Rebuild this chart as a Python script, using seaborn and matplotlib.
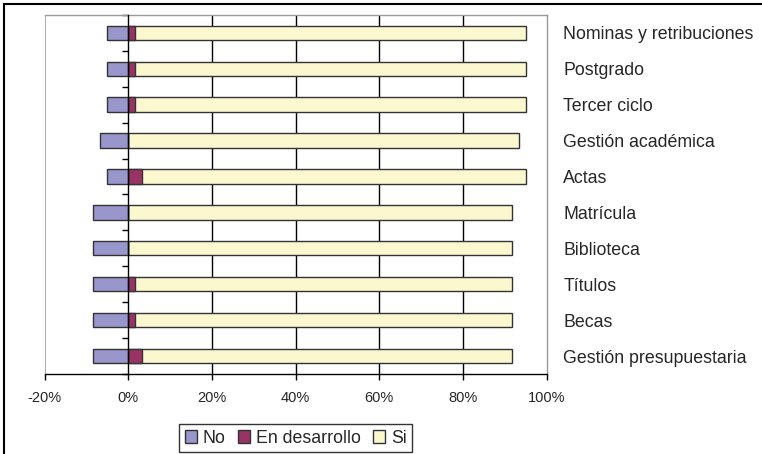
import numpy as np
import pandas as pd
import matplotlib
matplotlib.use('Agg')
import matplotlib.pyplot as plt
import seaborn as sns
from matplotlib.ticker import PercentFormatter
from matplotlib.patches import Rectangle

categorias = ['Nominas y retribuciones', 'Postgrado', 'Tercer ciclo', 'Gestión académica',
              'Actas', 'Matrícula', 'Biblioteca', 'Títulos', 'Becas', 'Gestión presupuestaria']
no = [5.0, 5.0, 5.0, 6.67, 5.0, 8.33, 8.33, 8.33, 8.33, 8.33]
en_desarrollo = [1.67, 1.67, 1.67, 0.0, 3.33, 0.0, 0.0, 1.67, 1.67, 3.33]
si = [93.33, 93.33, 93.33, 93.33, 91.67, 91.67, 91.67, 90.0, 90.0, 88.33]
xticks = [-20, 0, 20, 40, 60, 80, 100]

sns.set_style('white')
plt.rcParams['font.family'] = ['Liberation Sans', 'DejaVu Sans']
plt.rcParams['axes.unicode_minus'] = False

# No va hacia la izquierda; Si se dibuja como total y En desarrollo encima
df = pd.DataFrame({
    'categoria': categorias,
    'No': [-v for v in no],
    'En desarrollo': en_desarrollo,
    'Si': [e + s for e, s in zip(en_desarrollo, si)],
})

fig = plt.figure(figsize=(7.62, 4.54), dpi=100)
ax = fig.add_axes([0.0584, 0.1762, 0.659, 0.791])

colores = {'No': '#9896CB', 'En desarrollo': '#993366', 'Si': '#FBF8D0'}
for serie in ['Si', 'En desarrollo', 'No']:
    sns.barplot(data=df, y='categoria', x=serie, orient='h', color=colores[serie],
                saturation=1, width=0.4, edgecolor='#333333', linewidth=1,
                label=serie, ax=ax, zorder=3)

if ax.get_legend() is not None:
    ax.get_legend().remove()

ax.set_xlim(-20, 100)
ax.set_xticks(xticks)
ax.xaxis.set_major_formatter(PercentFormatter(decimals=0))
ax.set_xlabel('')
ax.set_ylabel('')

# lineas verticales de la cuadricula
for t in xticks:
    if 0 < t < 100:
        ax.axvline(t, color='black', lw=1, zorder=1)
ax.axvline(-20, color='#999999', lw=1.2, zorder=1)

ax.spines['left'].set_position(('data', 0))
ax.spines['left'].set_color('black')
ax.spines['left'].set_zorder(4)
ax.spines['bottom'].set_color('black')
ax.spines['top'].set_color('#999999')
ax.spines['right'].set_color('#999999')
for s in ax.spines.values():
    s.set_linewidth(1)

ax.set_yticks(np.arange(len(categorias) + 1) - 0.5, minor=True)
ax.tick_params(axis='y', which='major', left=False, right=False,
               labelleft=False, labelright=True, pad=8.5, labelsize=12.8)
ax.tick_params(axis='y', which='minor', left=True, right=False,
               direction='out', length=4, width=1, color='black')
ax.tick_params(axis='x', bottom=True, direction='out', length=4, width=1,
               color='black', labelsize=10.5, pad=8)

handles, labels = ax.get_legend_handles_labels()
orden = ['No', 'En desarrollo', 'Si']
hl = dict(zip(labels, handles))
leg = fig.legend([hl[o] for o in orden], orden, loc='center', bbox_to_anchor=(0.388, 0.035),
                 ncol=3, frameon=True, fancybox=False, edgecolor='black', fontsize=12.8,
                 handlelength=0.7, handleheight=0.7, handletextpad=0.3,
                 columnspacing=0.7, borderpad=0.3, borderaxespad=0)
leg.get_frame().set_linewidth(1)

fig.patches.append(Rectangle((0.005, -0.1), 1.2, 1.091, transform=fig.transFigure,
                             fill=False, edgecolor='black', lw=1.5))

fig.savefig('out.png', dpi=100)
